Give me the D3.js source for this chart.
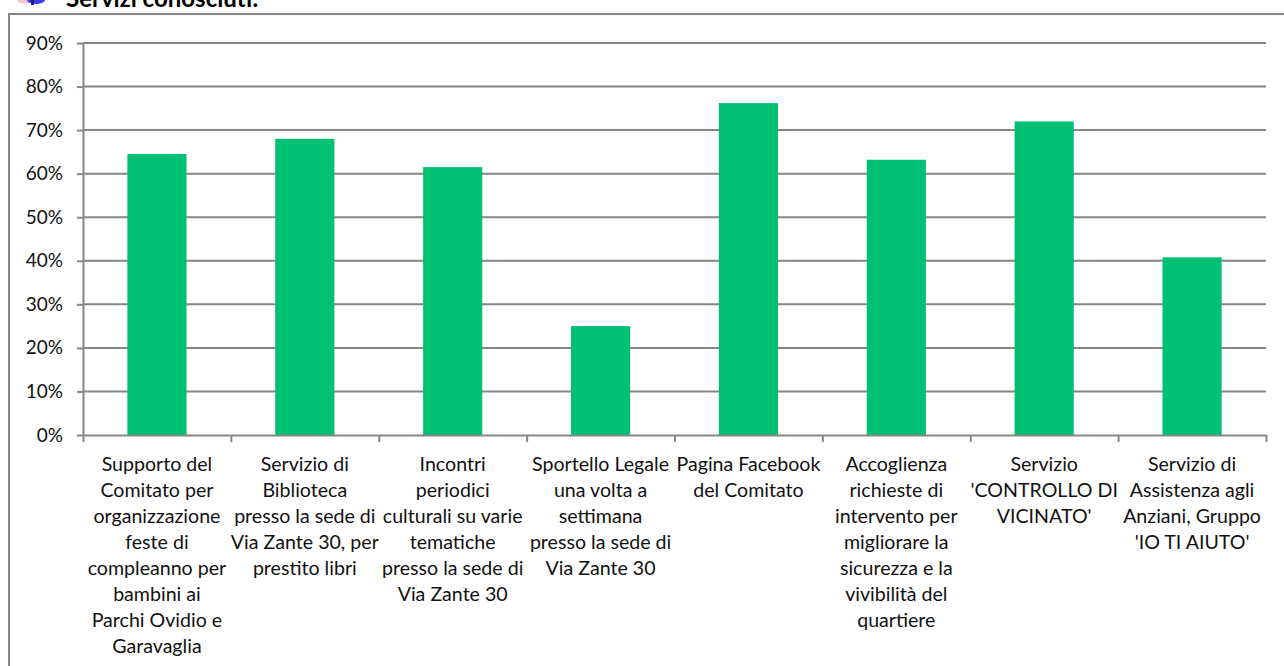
<!DOCTYPE html>
<html lang="en">
<head>
  <meta charset="UTF-8">
  <title>Servizi conosciuti</title>
  <script src="https://d3js.org/d3.v7.min.js"></script>
  <style>
    html, body {
      margin: 0;
      background: #fff;
      overflow: hidden;
    }

    svg {
      display: block;
      font-family: Lato, sans-serif;
    }

    .axis path, .axis line, .grid line {
      stroke: #868686;
      stroke-width: 2px;
      fill: none;
    }

    .axis text {
      fill: #111;
      font-size: 19px;
      font-family: Lato, sans-serif;
    }

    .cat {
      fill: #111;
      font-size: 19.6px;
      font-family: Lato, sans-serif;
    }
  </style>
</head>
<body>

<svg width="1284" height="666"></svg>

<script>
  const categories = [
    ["Supporto del", "Comitato per", "organizzazione", "feste di", "compleanno per", "bambini ai", "Parchi Ovidio e", "Garavaglia"],
    ["Servizio di", "Biblioteca", "presso la sede di", "Via Zante 30, per", "prestito libri"],
    ["Incontri", "periodici", "culturali su varie", "tematiche", "presso la sede di", "Via Zante 30"],
    ["Sportello Legale", "una volta a", "settimana", "presso la sede di", "Via Zante 30"],
    ["Pagina Facebook", "del Comitato"],
    ["Accoglienza", "richieste di", "intervento per", "migliorare la", "sicurezza e la", "vivibilità del", "quartiere"],
    ["Servizio", "'CONTROLLO DI", "VICINATO'"],
    ["Servizio di", "Assistenza agli", "Anziani, Gruppo", "'IO TI AIUTO'"]
  ];
  const values = [64.5, 68, 61.5, 25, 76.2, 63.2, 72, 40.8];
  const yTicks = [0, 10, 20, 30, 40, 50, 60, 70, 80, 90];

  const plot = {left: 83, right: 1266, top: 43, bottom: 435};
  const svg = d3.select("svg");

  // Chart frame, open at the bottom and right like the cropped original
  svg.append("path")
    .attr("d", "M9,666V14H1284")
    .attr("fill", "none")
    .attr("stroke", "#868686")
    .attr("stroke-width", 2);

  // Clipped title and the bullet icon above it
  svg.append("text")
    .attr("x", 66)
    .attr("y", 7)
    .attr("font-size", 24)
    .attr("font-weight", 700)
    .attr("fill", "#000")
    .text("Servizi conosciuti:");

  svg.append("ellipse").attr("cx", 25).attr("cy", 0).attr("rx", 8).attr("ry", 3.5).attr("fill", "#f9c3cc");
  svg.append("ellipse").attr("cx", 36).attr("cy", 0).attr("rx", 9).attr("ry", 4).attr("fill", "#3b3bf0");
  svg.append("rect").attr("x", 31).attr("y", 0).attr("width", 3).attr("height", 5).attr("fill", "#20207a");

  const x = d3.scaleBand()
    .domain(d3.range(categories.length))
    .range([plot.left, plot.right])
    .paddingInner(0.6)
    .paddingOuter(0.3);

  const xEdges = d3.scaleLinear()
    .domain([0, categories.length])
    .range([plot.left, plot.right]);

  const y = d3.scaleLinear()
    .domain([0, 90])
    .range([plot.bottom, plot.top]);

  // Gridlines
  svg.append("g")
    .attr("class", "grid")
    .selectAll("line")
    .data(yTicks.slice(1))
    .enter()
    .append("line")
    .attr("x1", plot.left)
    .attr("x2", plot.right)
    .attr("y1", d => y(d))
    .attr("y2", d => y(d));

  // Bars
  svg.selectAll(".bar")
    .data(values)
    .enter()
    .append("rect")
    .attr("class", "bar")
    .attr("x", (d, i) => x(i))
    .attr("width", x.bandwidth())
    .attr("y", d => y(d))
    .attr("height", d => y(0) - y(d))
    .attr("fill", "#00c073");

  // Axes
  svg.append("g")
    .attr("class", "axis")
    .attr("transform", `translate(${plot.left},0)`)
    .call(d3.axisLeft(y).tickValues(yTicks).tickSize(6).tickSizeOuter(0).tickPadding(14).tickFormat(d => d + "%"));

  svg.append("g")
    .attr("class", "axis")
    .attr("transform", `translate(0,${plot.bottom})`)
    .call(d3.axisBottom(xEdges).ticks(categories.length).tickSize(7).tickSizeOuter(0).tickFormat(""));

  // Category labels
  const catLabels = svg.selectAll(".cat")
    .data(categories)
    .enter()
    .append("text")
    .attr("class", "cat")
    .attr("text-anchor", "middle");

  catLabels.selectAll("tspan")
    .data((d, i) => d.map(line => ({line, i})))
    .enter()
    .append("tspan")
    .attr("x", d => x(d.i) + x.bandwidth() / 2)
    .attr("y", (d, j) => 471 + j * 26)
    .text(d => d.line);
</script>

</body>
</html>
